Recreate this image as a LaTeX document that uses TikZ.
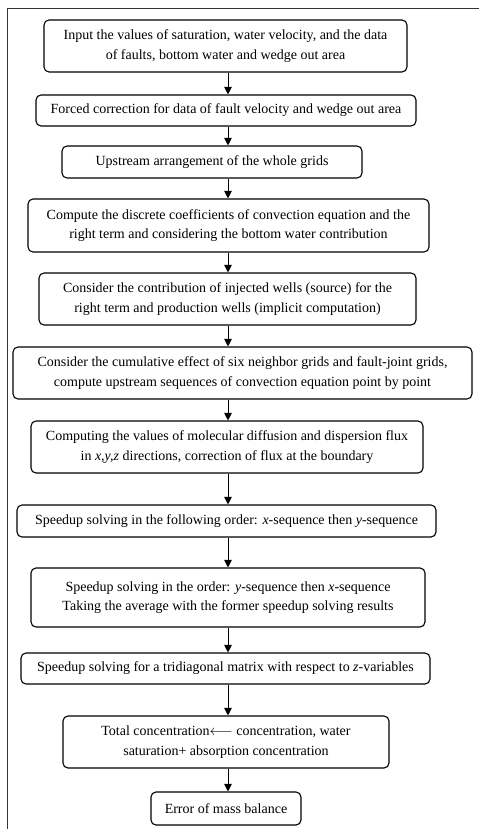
\documentclass[tikz,border=0pt]{standalone}
\usepackage{fontspec}
\setmainfont{Liberation Serif}
\usetikzlibrary{arrows.meta}

\begin{document}
\begin{tikzpicture}[x=1pt, y=-1pt,
	stepbox/.style={draw, line width=1.1pt, rounded corners=5pt, align=center,
		inner sep=0pt, font=\fontsize{14}{19.5}\selectfont},
	flow/.style={line width=0.9pt, -{Triangle[length=7.5pt, width=7.5pt]}}]
			%%%%% START %%%%%
			
			\useasboundingbox (0, 0) rectangle (479, 829);
			\draw[line width=0.9pt, color=black!80] (479, 8) -- (7, 8) -- (7, 829);
			
			\node[stepbox, minimum width=363pt, minimum height=52pt] (in) at (225.5, 46)
				{Input the values of saturation, water velocity, and the data\\ of faults, bottom water and wedge out area};
			\node[stepbox, minimum width=380pt, minimum height=31pt] (force) at (226, 110.5)
				{Forced correction for data of fault velocity and wedge out area};
			\node[stepbox, minimum width=300pt, minimum height=32pt] (up) at (212, 162)
				{Upstream arrangement of the whole grids};
			\node[stepbox, minimum width=401pt, minimum height=53pt] (coef) at (228.5, 225.5)
				{Compute the discrete coefficients of convection equation and the\\ right term and considering the bottom water contribution};
			\node[stepbox, minimum width=377pt, minimum height=52pt] (wells) at (227.5, 299)
				{Consider the contribution of injected wells (source) for the\\ right term and production wells (implicit computation)};
			\node[stepbox, minimum width=459pt, minimum height=52pt] (cum) at (242.5, 373)
				{Consider the cumulative effect of six neighbor grids and fault-joint grids,\\ compute upstream sequences of convection equation point by point};
			\node[stepbox, minimum width=392pt, minimum height=52pt] (flux) at (227, 447)
				{Computing the values of molecular diffusion and dispersion flux\\ in \textit{x,y,z} directions, correction of flux at the boundary};
			\node[stepbox, minimum width=419pt, minimum height=32pt] (xy) at (226.5, 521)
				{Speedup solving in the following order: \textit{x}-sequence then \textit{y}-sequence};
			\node[stepbox, minimum width=394pt, minimum height=59pt] (yx) at (228, 597.5)
				{Speedup solving in the order: \textit{y}-sequence then \textit{x}-sequence\\ Taking the average with the former speedup solving results};
			\node[stepbox, minimum width=409pt, minimum height=31pt] (tri) at (225.5, 668.5)
				{Speedup solving for a tridiagonal matrix with respect to \textit{z}-variables};
			\node[stepbox, minimum width=326pt, minimum height=52pt] (total) at (226, 742)
				{Total concentration$\longleftarrow$ concentration, water\\ saturation+ absorption concentration};
			\node[stepbox, minimum width=150pt, minimum height=33pt] (err) at (226, 808.5)
				{Error of mass balance};
			
			\coordinate (ax) at (228, 0);
			\foreach \a/\b in {in/force, force/up, up/coef, coef/wells, wells/cum, cum/flux,
				flux/xy, xy/yx, yx/tri, tri/total, total/err}
				\draw[flow] (\a.south -| ax) -- (\b.north -| ax);
			
			%%%%% END %%%%%
\end{tikzpicture}
\end{document}
